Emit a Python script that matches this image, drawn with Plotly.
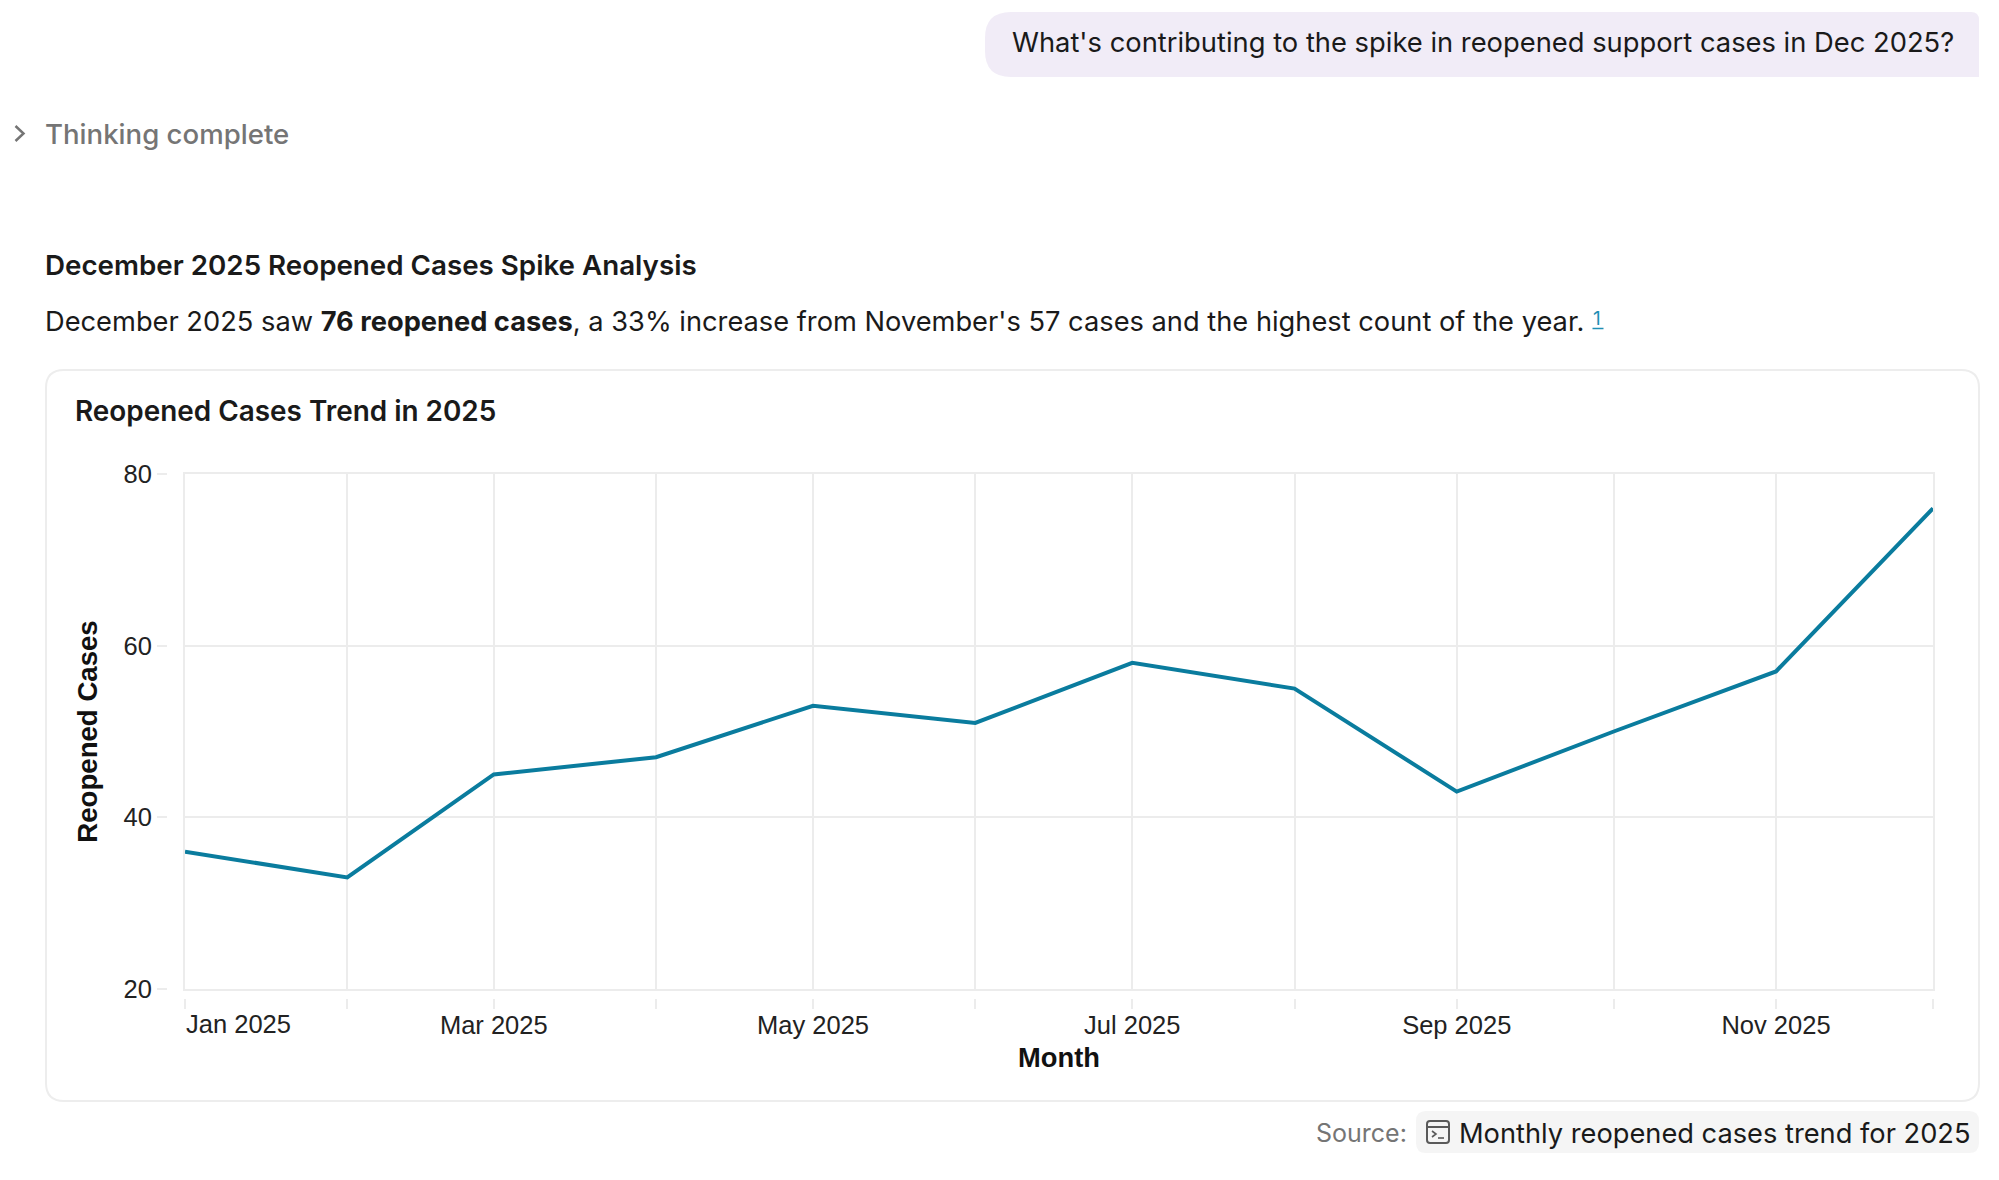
import plotly.graph_objects as go

W, H = 1999, 1180

months = ["2025-01-01", "2025-02-01", "2025-03-01", "2025-04-01", "2025-05-01", "2025-06-01",
          "2025-07-01", "2025-08-01", "2025-09-01", "2025-10-01", "2025-11-01", "2025-12-01"]
reopened = [36, 33, 45, 47, 53, 51, 58, 55, 43, 50, 57, 76]
x_tick_text = ["", "", "Mar 2025", "", "May 2025", "", "Jul 2025", "", "Sep 2025", "", "Nov 2025", ""]
first_tick_text = "Jan 2025"
y_ticks = [20, 40, 60, 80]

UI = "Inter"
CH = "Liberation Sans"
GRID = "#ECECEC"
LINE = "#0A7C9E"
INK = "#1A1A1A"


def fx(p):
    return p / W


def fy(p):
    return 1 - p / H


def rr(x0, y0, x1, y1, tl, tr, br, bl):
    X, Y = fx, fy
    return (f"M{X(x0+tl)},{Y(y0)} L{X(x1-tr)},{Y(y0)} Q{X(x1)},{Y(y0)} {X(x1)},{Y(y0+tr)} "
            f"L{X(x1)},{Y(y1-br)} Q{X(x1)},{Y(y1)} {X(x1-br)},{Y(y1)} "
            f"L{X(x0+bl)},{Y(y1)} Q{X(x0)},{Y(y1)} {X(x0)},{Y(y1-bl)} "
            f"L{X(x0)},{Y(y0+tl)} Q{X(x0)},{Y(y0)} {X(x0+tl)},{Y(y0)} Z")


def poly(pts):
    return "M" + " L".join(f"{fx(a)},{fy(b)}" for a, b in pts)


def box(path, fill="rgba(0,0,0,0)", color="rgba(0,0,0,0)", width=0):
    return dict(type="path", xref="paper", yref="paper", path=path, fillcolor=fill,
                line=dict(color=color, width=width), layer="below")


shapes = [
    box(rr(985, 12, 1979, 77, 26, 8, 0, 26), fill="#F1ECF7"),
    box(rr(46, 370, 1979, 1101, 18, 18, 18, 18), fill="#FFFFFF", color="#EDEDED", width=2),
    box(rr(1416, 1111, 1979, 1153, 10, 10, 10, 10), fill="#F5F5F5"),
    box(poly([(15.5, 126), (23.5, 133.5), (15.5, 141)]), color="#757575", width=2.5),
    box(rr(1427, 1121, 1449, 1143, 3, 3, 3, 3), color="#5A5A5A", width=2),
    box(poly([(1427, 1127), (1449, 1127)]), color="#5A5A5A", width=2),
    box(poly([(1432, 1131), (1436, 1134), (1432, 1137)]), color="#5A5A5A", width=1.6),
    box(poly([(1438, 1138), (1444, 1138)]), color="#5A5A5A", width=1.6),
    box(poly([(1592.5, 328.5), (1603.5, 328.5)]), color="#1F8FB5", width=1.5),
]


def note(text, x, y, size, color=INK, family=UI, weight=None, anchor="left"):
    return dict(text=text, x=fx(x), y=fy(y), xref="paper", yref="paper", showarrow=False,
                xanchor=anchor, yanchor="middle", borderpad=0, borderwidth=0,
                font=dict(family=family, size=size, color=color, weight=weight))


annotations = [
    note("What's contributing to the spike in reopened support cases in Dec 2025?", 1011.5, 42.5, 27.33),
    note("Thinking complete", 45, 134, 27.6, color="#757575", weight=500),
    note("December 2025 Reopened Cases Spike Analysis", 45, 265, 27.75, weight=600),
    note("December 2025 saw <b>76 reopened cases</b>, a 33% increase from November's 57 cases "
         "and the highest count of the year.", 45, 321, 27.25),
    note("1", 1593, 318.5, 19, color="#1F8FB5"),
    note("Reopened Cases Trend in 2025", 75, 411, 27.9, weight=600),
    note("Source:", 1315.5, 1133, 25, color="#757575"),
    note("Monthly reopened cases trend for 2025", 1459, 1133, 27.24),
    dict(text=first_tick_text, x=months[0], y=fy(1024), xref="x2", yref="paper", showarrow=False,
         xanchor="left", yanchor="middle", borderpad=0,
         font=dict(family=CH, size=25.5, color="#222222")),
]

fig = go.Figure()
fig.add_trace(go.Scatter(x=months, y=reopened, mode="lines", xaxis="x", yaxis="y",
                         line=dict(color=LINE, width=4), hoverinfo="skip", showlegend=False))
fig.add_trace(go.Scatter(x=months, y=reopened, mode="lines", xaxis="x2", yaxis="y2",
                         line=dict(color=LINE, width=0), hoverinfo="skip", showlegend=False))

domx = [fx(185), fx(1933)]
domy = [fy(989), fy(474)]
grid = dict(showgrid=True, gridcolor=GRID, gridwidth=2, zeroline=False, showline=True,
            linecolor=GRID, linewidth=2, mirror=True, ticks="", showticklabels=False)

fig.update_layout(
    width=W, height=H, margin=dict(l=0, r=0, t=0, b=0, pad=0), autosize=False,
    paper_bgcolor="#FFFFFF", plot_bgcolor="rgba(0,0,0,0)", showlegend=False,
    shapes=shapes, annotations=annotations,
    xaxis=dict(domain=domx, type="date", range=[months[0], months[-1]], tickmode="array",
               tickvals=months, anchor="y", automargin=False, **grid),
    yaxis=dict(domain=domy, range=[20, 80], tickmode="array", tickvals=y_ticks, anchor="x",
               automargin=False, **grid),
    xaxis2=dict(domain=domx, type="date", range=[months[0], months[-1]], overlaying="x",
                anchor="free", position=fy(998), tickmode="array", tickvals=months,
                ticktext=x_tick_text, ticks="outside", ticklen=10, tickwidth=2, tickcolor=GRID,
                showgrid=False, zeroline=False, showline=False, automargin=False,
                ticklabelstandoff=-6,
                tickfont=dict(family=CH, size=25.5, color="#222222"),
                title=dict(text="<b>Month</b>", standoff=10,
                           font=dict(family=CH, size=27.3, color="#111111"))),
    yaxis2=dict(domain=domy, range=[20, 80], overlaying="y", anchor="free", position=fx(167),
                side="left", tickmode="array", tickvals=y_ticks, ticks="outside", ticklen=10,
                tickwidth=2, tickcolor=GRID, showgrid=False, zeroline=False, showline=False,
                automargin=False, tickfont=dict(family=CH, size=25.5, color="#222222"),
                title=dict(text="<b>Reopened Cases</b>", standoff=16,
                           font=dict(family=CH, size=27.6, color="#111111"))),
)

fig.write_html("out.html", config={"displayModeBar": False},
               post_script="document.body.style.margin='0';document.body.style.overflow='hidden';")
